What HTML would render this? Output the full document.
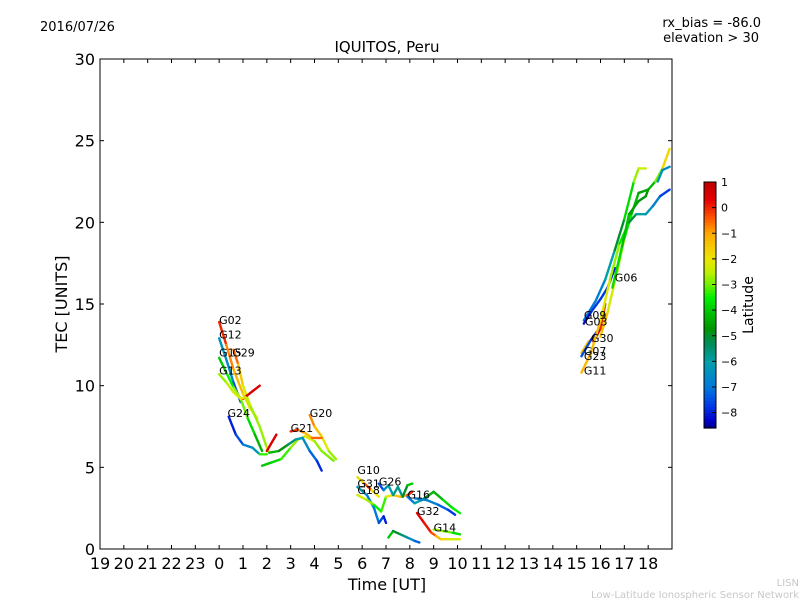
<!DOCTYPE html>
<html><head><meta charset="utf-8"><style>
body{margin:0;background:#fff;}
svg{display:block;font-family:"DejaVu Sans","Liberation Sans",sans-serif;}
</style></head><body>
<svg id="chart" width="800" height="600" viewBox="0 0 800 600">
<rect width="800" height="600" fill="#fff"/>
<text x="40" y="31" font-size="13">2016/07/26</text>
<text x="761" y="27" font-size="13" text-anchor="end">rx_bias = -86.0</text>
<text x="759" y="42" font-size="13" text-anchor="end">elevation &gt; 30</text>
<text x="387" y="52" font-size="15" text-anchor="middle">IQUITOS, Peru</text>
<text x="387" y="590" font-size="16" text-anchor="middle">Time [UT]</text>
<text transform="translate(67,304) rotate(-90)" font-size="16" text-anchor="middle">TEC [UNITS]</text>
<text x="799" y="586" font-size="10" fill="#c8c8c8" text-anchor="end">LISN</text>
<text x="799" y="598" font-size="10" fill="#c8c8c8" text-anchor="end">Low-Latitude Ionospheric Sensor Network</text>
<g id="marks"></g>
<g id="axes"></g>
<g id="cbar"></g>
</svg>
<script>
const xTicks=[19,20,21,22,23,0,1,2,3,4,5,6,7,8,9,10,11,12,13,14,15,16,17,18];
const yTicks=[0,5,10,15,20,25,30];
const cbTicks=[1,0,-1,-2,-3,-4,-5,-6,-7,-8];
// each track: times (UT hours, negative = previous day), tec values, latitudes
const trkG02T=[0.0,0.3,0.6,1.0,1.3,1.6];const trkG02V=[13.9,12.5,11.0,9.5,8.6,8.0];const trkG02L=[0.5,-0.5,-1,-1.5,-2,-2.2];
const trkG12T=[0.0,0.3,0.6,0.9];const trkG12V=[12.9,11.6,10.2,9.0];const trkG12L=[-6.5,-6.2,-7,-8];
const trkG15T=[0.0,0.3,0.6,0.9,1.2,1.5,1.8];const trkG15V=[11.7,10.8,9.9,9.2,8.0,7.0,6.0];const trkG15L=[-4,-4,-3,-2.5,-3.5,-4,-4.5];
const trkG29T=[0.6,0.8,1.0,1.3,1.7,2.0,2.1];const trkG29V=[12.2,11.3,10.0,8.8,7.5,6.2,5.9];const trkG29L=[0,-1,-2,-2.5,-3,-2.5,-1.5];
const trkR1T=[1.0,1.7];const trkR1V=[9.2,10.0];const trkR1L=[0.5,0.5];
const trkR2T=[2.0,2.4];const trkR2V=[6.0,7.0];const trkR2L=[0.5,0.5];
const trkG13T=[0.0,0.3,0.6,0.9,1.1,1.3];const trkG13V=[10.7,10.2,9.6,9.2,9.3,8.8];const trkG13L=[-3,-2.5,-2.5,-2,-2,-3];
const trkGrT=[1.8,2.2,2.6,3.0,3.3,3.6,4.0,4.3,4.8];const trkGrV=[5.1,5.3,5.5,6.2,6.7,6.9,6.6,6.0,5.4];const trkGrL=[-4,-4,-3.5,-3,-2.5,-2,-2.5,-3,-2.8];
const trkG24T=[0.4,0.7,1.0,1.4,1.7,2.0];const trkG24V=[8.1,7.0,6.4,6.2,5.8,5.8];const trkG24L=[-8,-8,-7,-6.5,-6,-0.5];
const trkBlT=[2.1,2.5,2.9,3.2,3.5,3.8,4.1,4.3];const trkBlV=[5.9,6.0,6.4,6.7,6.8,6.0,5.4,4.8];const trkBlL=[-4,-4.5,-5,-6,-6,-7,-7.5,-8.2];
const trkG20T=[3.8,4.0,4.3,4.6,4.9];const trkG20V=[8.2,7.5,6.9,6.0,5.5];const trkG20L=[-0.5,-1,-1.8,-2.5,-3];
const trkG21T=[3.0,3.3,3.6,3.9,4.3];const trkG21V=[7.2,7.3,7.1,6.8,6.8];const trkG21L=[0.5,-0.5,-1,-1.5,0.5];
const trkG10T=[5.8,6.1,6.4,6.7];const trkG10V=[4.4,4.0,3.6,3.2];const trkG10L=[-4,0.3,-1,-3];
const trkG31T=[5.8,6.2,6.5,6.7,6.9,7.0];const trkG31V=[3.8,3.3,2.5,1.6,2.0,1.6];const trkG31L=[-6,-6.5,-7,-7,-8,-8];
const trkG18T=[5.8,6.2,6.5,6.8,7.0,7.3,7.6,7.9,8.1];const trkG18V=[3.3,3.0,2.7,2.3,3.2,3.3,3.2,3.3,3.5];const trkG18L=[-2,-2.5,-3,-4,-2.5,-1.5,-1.5,-0.5,0.5];
const trkG26T=[6.7,6.9,7.1,7.3,7.5,7.7,7.9,8.1];const trkG26V=[4.0,3.6,3.9,3.3,3.8,3.2,3.9,4.0];const trkG26L=[-8,-7,-6,-6,-5.5,-6,-4,-4];
const trkLoT=[7.1,7.3,7.6,7.9,8.2,8.4];const trkLoV=[0.7,1.1,0.9,0.7,0.5,0.4];const trkLoL=[-3,-5,-5,-6,-7,-7.5];
const trkG16T=[7.9,8.2,8.5,8.8,9.0,9.4,9.8,10.1];const trkG16V=[3.2,2.8,3.0,3.3,3.5,3.0,2.5,2.2];const trkG16L=[-8,-6,-6,-4,-4.5,-4,-3.5,-3.5];
const trkB2T=[8.2,8.7,9.2,9.6,9.9];const trkB2V=[3.1,3.0,2.7,2.4,2.1];const trkB2L=[-7,-6.5,-7,-7.5,-8];
const trkG32T=[8.3,8.6,8.9,9.1,9.3,9.6,10.1];const trkG32V=[2.2,1.6,1.0,0.8,0.6,0.6,0.6];const trkG32L=[0.5,0,0.3,-1,-1.5,-2,-2.5];
const trkG14T=[9.0,9.4,9.8,10.1];const trkG14V=[1.2,1.1,1.0,0.9];const trkG14L=[-3,-2.5,-3.5,-4];
const trkG09T=[15.3,15.8,16.2,16.6,17.0,17.4,17.6,17.9];const trkG09V=[14.0,15.2,16.5,18.3,20.2,22.5,23.3,23.3];const trkG09L=[-7,-7,-6.5,-5.5,-4.5,-3,-2.5,-2.2];
const trkG03T=[15.3,15.6,16.0,16.3,16.6];const trkG03V=[13.8,14.5,15.3,16.0,17.2];const trkG03L=[-8.3,-8,-7.5,-8,-8.3];
const trkG06T=[16.0,16.3,16.7,17.0,17.3,17.6,18.0,18.3,18.6,18.9];const trkG06V=[13.0,14.5,17.0,19.0,20.5,21.8,22.0,22.5,23.3,24.5];const trkG06L=[-1,-2,-2.5,-3,-4,-4.5,-4.5,-3.8,-2,-1.5];
const trkG30T=[15.7,16.0,16.2];const trkG30V=[12.7,13.5,15.0];const trkG30L=[0.5,0.3,-0.5];
const trkG07T=[15.2,15.5];const trkG07V=[12.0,12.7];const trkG07L=[-1.5,-1.2];
const trkG23T=[15.2,15.6,15.9];const trkG23V=[11.8,12.8,13.4];const trkG23L=[-7,-8,-8];
const trkG11T=[15.2,15.6,16.0,16.4,16.8,17.2,17.5,17.9,18.2,18.5,18.9];const trkG11V=[10.8,12.0,14.0,16.5,18.7,20.0,20.5,20.5,21.0,21.6,22.0];const trkG11L=[-1.5,-1,-1.8,-2.5,-3,-4.2,-6,-6,-6.5,-7,-8.3];
const trkGn2T=[16.5,16.9,17.2,17.6,17.9,18.0];const trkGn2V=[16.0,18.5,20.5,21.3,21.6,22.0];const trkGn2L=[-3.5,-4,-4.3,-4.8,-4.8,-4.5];
const trkTlT=[18.4,18.6,18.9];const trkTlV=[22.5,23.2,23.4];const trkTlL=[-6,-6.5,-6.5];
const tracks=[
['g02',trkG02T,trkG02V,trkG02L],['g12',trkG12T,trkG12V,trkG12L],['g15',trkG15T,trkG15V,trkG15L],['g29',trkG29T,trkG29V,trkG29L],
['red1',trkR1T,trkR1V,trkR1L],['red2',trkR2T,trkR2V,trkR2L],['g13',trkG13T,trkG13V,trkG13L],['green-arc',trkGrT,trkGrV,trkGrL],
['g24',trkG24T,trkG24V,trkG24L],['blue-arc',trkBlT,trkBlV,trkBlL],['g20',trkG20T,trkG20V,trkG20L],['g21',trkG21T,trkG21V,trkG21L],
['g10',trkG10T,trkG10V,trkG10L],['g31',trkG31T,trkG31V,trkG31L],['g18',trkG18T,trkG18V,trkG18L],['g26',trkG26T,trkG26V,trkG26L],
['low',trkLoT,trkLoV,trkLoL],['g16',trkG16T,trkG16V,trkG16L],['blue2',trkB2T,trkB2V,trkB2L],['g32',trkG32T,trkG32V,trkG32L],
['g14',trkG14T,trkG14V,trkG14L],['g09',trkG09T,trkG09V,trkG09L],['g03',trkG03T,trkG03V,trkG03L],['g06',trkG06T,trkG06V,trkG06L],
['g30',trkG30T,trkG30V,trkG30L],['g07',trkG07T,trkG07V,trkG07L],['g23',trkG23T,trkG23V,trkG23L],['g11',trkG11T,trkG11V,trkG11L],
['green2',trkGn2T,trkGn2V,trkGn2L],['teal',trkTlT,trkTlV,trkTlL]];
const satNames=['G02','G12','G15','G29','G13','G24','G20','G21','G10','G31','G18','G26','G16','G32','G14','G09','G03','G06','G30','G07','G23','G11'];
const satT=[0.0,0.0,0.0,0.55,0.0,0.35,3.8,3.0,5.8,5.8,5.8,6.7,7.9,8.3,9.0,15.3,15.35,16.6,15.6,15.3,15.3,15.3];
const satV=[13.9,13.0,11.9,11.9,10.8,8.2,8.2,7.3,4.7,3.9,3.5,4.0,3.2,2.2,1.2,14.2,13.8,16.5,12.8,12.0,11.7,10.8];

const X0=100,X1=672,Y0=549,Y1=59;
const tMin=-5,tMax=19;
const sx=t=>X0+(t-tMin)/(tMax-tMin)*(X1-X0);
const sy=v=>Y0-v/30*(Y0-Y1);
const cMin=-8.6,cMax=1.0,CB0=428,CB1=182;
const cy=l=>CB0-(l-cMin)/(cMax-cMin)*(CB0-CB1);
const CMAP=[[-8.6,0,0,130],[-8.3,0,0,200],[-7.7,0,60,230],[-7,0,120,220],[-6,0,160,170],[-5.3,0,140,90],[-4.7,0,150,0],[-4,0,200,0],[-3.5,0,240,0],[-3,110,240,0],[-2.5,190,240,0],[-2,235,230,0],[-1,255,170,0],[-0.5,255,100,0],[0.3,230,0,0],[1.0,190,0,0]];
function jet(l){l=Math.max(cMin,Math.min(cMax,l));
 for(let i=0;i<CMAP.length-1;i++){const a=CMAP[i],b=CMAP[i+1];if(l<=b[0]){const f=(l-a[0])/(b[0]-a[0]);
  return `rgb(${Math.round(a[1]+f*(b[1]-a[1]))},${Math.round(a[2]+f*(b[2]-a[2]))},${Math.round(a[3]+f*(b[3]-a[3]))})`;}}
 return 'rgb(190,0,0)';}
const NS='http://www.w3.org/2000/svg';
function mk(tag,attrs,parent){const e=document.createElementNS(NS,tag);for(const k in attrs)e.setAttribute(k,attrs[k]);parent.appendChild(e);return e;}
const marks=document.getElementById('marks');
tracks.forEach(tr=>{const [nm,T,V,L]=tr;
 const g=mk('g',{},marks);
 
 
 for(let i=0;i<T.length-1;i++){
  const s=mk('line',{x1:sx(T[i]),y1:sy(V[i]),x2:sx(T[i+1]),y2:sy(V[i+1]),stroke:jet((L[i]+L[i+1])/2),'stroke-width':2.4,'stroke-linecap':'round'},g);
  
  
 }});
satNames.forEach((n,i)=>{const t=mk('text',{x:sx(satT[i]),y:sy(satV[i])+2,'font-size':11},marks);t.textContent=n;
 
 });
const ax=document.getElementById('axes');
const fr=mk('rect',{x:X0,y:Y1,width:X1-X0,height:Y0-Y1,fill:'none',stroke:'#000','stroke-width':1},ax);


xTicks.forEach((h,i)=>{const t=tMin+i;const x=sx(t);
 mk('line',{x1:x,y1:Y0,x2:x,y2:Y0-4,stroke:'#000'},ax);mk('line',{x1:x,y1:Y1,x2:x,y2:Y1+4,stroke:'#000'},ax);
 const tx=mk('text',{x:x,y:Y0+20,'font-size':16,'text-anchor':'middle'},ax);tx.textContent=h;
 
 });
yTicks.forEach(v=>{const y=sy(v);
 mk('line',{x1:X0,y1:y,x2:X0+4,y2:y,stroke:'#000'},ax);mk('line',{x1:X1,y1:y,x2:X1-4,y2:y,stroke:'#000'},ax);
 const tx=mk('text',{x:X0-5,y:y+6,'font-size':16,'text-anchor':'end'},ax);tx.textContent=v;
 
 });
const cb=document.getElementById('cbar');
const N=80;
for(let i=0;i<N;i++){const l0=cMin+(cMax-cMin)*i/N,l1=cMin+(cMax-cMin)*(i+1)/N;
 mk('rect',{x:704,y:cy(l1),width:12,height:cy(l0)-cy(l1)+0.6,fill:jet((l0+l1)/2)},cb);}
const cbf=mk('rect',{x:704,y:CB1,width:12,height:CB0-CB1,fill:'none',stroke:'#000'},cb);


cbTicks.forEach(l=>{const y=cy(l);mk('line',{x1:712,y1:y,x2:716,y2:y,stroke:'#000'},cb);
 const tx=mk('text',{x:721,y:y+4,'font-size':11},cb);tx.textContent=(l<0?'\u2212'+(-l):l);
 
 });
const lt=mk('text',{transform:'translate(753,305) rotate(-90)','font-size':14,'text-anchor':'middle'},cb);lt.textContent='Latitude';


</script>
</body></html>
